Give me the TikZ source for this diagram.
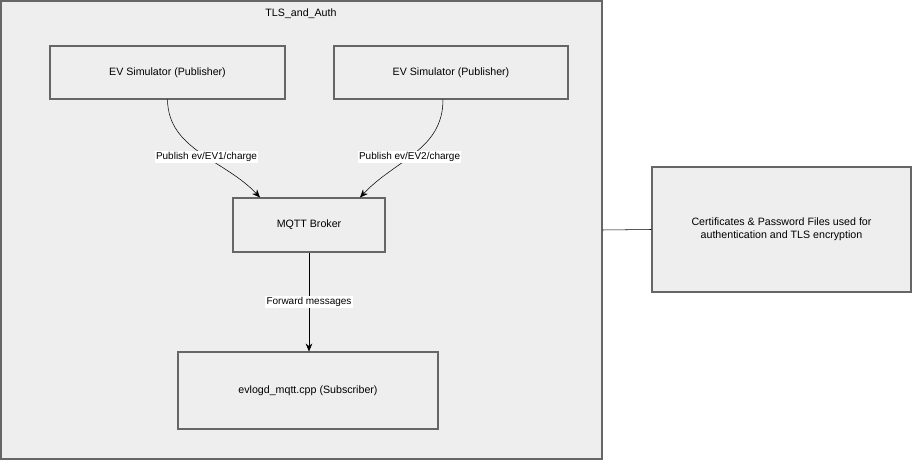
\documentclass[tikz,border=0pt]{standalone}
\usepackage{fontspec}
\setmainfont{Liberation Sans}
\usetikzlibrary{arrows.meta}
\definecolor{boxfill}{HTML}{EEEEEE}
\definecolor{boxline}{HTML}{666666}
\tikzstyle{box}=[rectangle,fill=boxfill,draw=boxline,thick,inner sep=0pt,anchor=center,font=\fontsize{8}{10}\selectfont,align=center]
\tikzstyle{annot}=[fill=white,inner sep=1pt,font=\fontsize{7.5}{9}\selectfont]
\tikzstyle{conn}=[-{Stealth[length=6pt,width=5pt]},thin]
\begin{document}
\begin{tikzpicture}[x=0.0264cm,y=-0.0264cm]
	\useasboundingbox (0,0) rectangle (913,462);
	% cluster
	\node[box, minimum width=601*0.0264cm, minimum height=458*0.0264cm](cluster) at (301.5,230){};
	\node[font=\fontsize{8}{10}\selectfont](title) at (301,14){TLS\_and\_Auth};

	\node[box, minimum width=235*0.0264cm, minimum height=53*0.0264cm](ev1) at (167.5,72.5){EV Simulator (Publisher)};
	\node[box, minimum width=234*0.0264cm, minimum height=53*0.0264cm](ev2) at (451,72.5){EV Simulator (Publisher)};
	\node[box, minimum width=152*0.0264cm, minimum height=54*0.0264cm](broker) at (309,225){MQTT Broker};
	\node[box, minimum width=260*0.0264cm, minimum height=77*0.0264cm](sub) at (308,390.5){evlogd\_mqtt.cpp (Subscriber)};
	\node[box, minimum width=259*0.0264cm, minimum height=125*0.0264cm](note) at (781.5,229.5){Certificates \& Password Files used for\\authentication and TLS encryption};

	\draw[conn] (ev1.south) .. controls (168,150) and (225,160) .. (broker.north west -| 260,198) node[annot, pos=0.55]{Publish ev/EV1/charge};
	\draw[conn] (ev2.south -| 443,99) .. controls (443,150) and (395,160) .. (broker.north east -| 360,198) node[annot, pos=0.55]{Publish ev/EV2/charge};
	\draw[conn] (broker.south) -- (sub.north -| broker.south) node[annot, midway]{Forward messages};
	\draw[thin] (cluster.east) -- (note.west);
\end{tikzpicture}
\end{document}
